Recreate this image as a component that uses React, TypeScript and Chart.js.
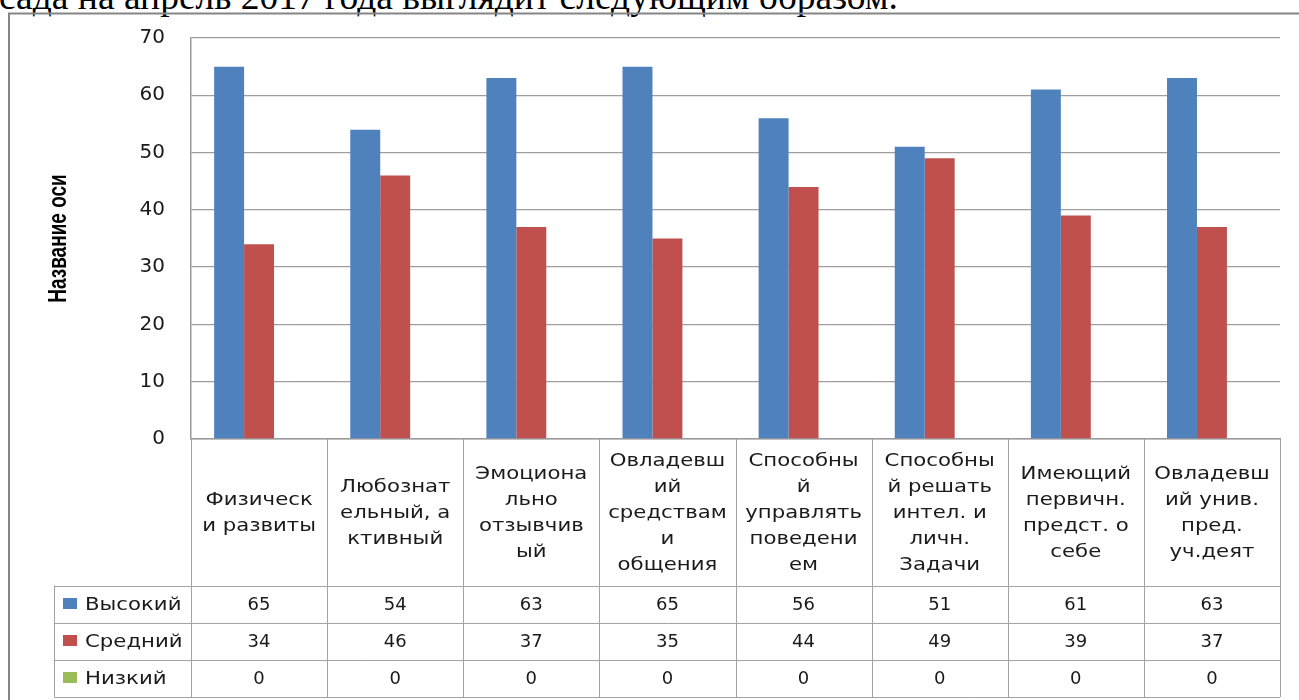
import React, { useEffect, useRef } from "react";
import { Chart, registerables } from "chart.js";

Chart.register(...registerables);

// ---------- data ----------
const categoryLines: string[][] = [
  ["Физическ", "и развиты"],
  ["Любознат", "ельный, а", "ктивный"],
  ["Эмоциона", "льно", "отзывчив", "ый"],
  ["Овладевш", "ий", "средствам", "и", "общения"],
  ["Способны", "й", "управлять", "поведени", "ем"],
  ["Способны", "й решать", "интел. и", "личн.", "Задачи"],
  ["Имеющий", "первичн.", "предст. о", "себе"],
  ["Овладевш", "ий унив.", "пред.", "уч.деят"],
];
const categories: string[] = categoryLines.map((l) => l.join(" "));

const highValues: number[] = [65, 54, 63, 65, 56, 51, 61, 63];
const midValues: number[] = [34, 46, 37, 35, 44, 49, 39, 37];
const lowValues: number[] = [0, 0, 0, 0, 0, 0, 0, 0];

const seriesNames: string[] = ["Высокий", "Средний", "Низкий"];
const seriesColors: string[] = ["#4F81BD", "#C0504D", "#9BBB59"];

const yMin = 0;
const yMax = 70;
const yStep = 10;

const axisTitle = "Название оси";
const headingText = "сада на апрель 2017 года выглядит следующим образом.";

// ---------- styles ----------
const TEXT_FONT = "18px 'DejaVu Sans', sans-serif";
const TEXT_STRETCH = 1.18;
const TEXT_COLOR = "#1a1a1a";
const LINE_COLOR = "#a3a3a3";

function stretchedText(
  ctx: CanvasRenderingContext2D,
  text: string,
  x: number,
  y: number,
  sx: number,
  align: CanvasTextAlign
) {
  ctx.save();
  ctx.translate(x, y);
  ctx.scale(sx, 1);
  ctx.textAlign = align;
  ctx.textBaseline = "middle";
  ctx.fillText(text, 0, 0);
  ctx.restore();
}

function line(ctx: CanvasRenderingContext2D, x1: number, y1: number, x2: number, y2: number) {
  ctx.beginPath();
  ctx.moveTo(x1, y1);
  ctx.lineTo(x2, y2);
  ctx.stroke();
}

const tablePlugin = {
  id: "dataTable",
  beforeDraw(chart: any) {
    const ctx: CanvasRenderingContext2D = chart.ctx;
    ctx.save();
    ctx.strokeStyle = "#858585";
    ctx.lineWidth = 2;
    ctx.strokeRect(9, 13.5, 1400, 800);
    ctx.restore();
  },
  afterDraw(chart: any) {
    const ctx: CanvasRenderingContext2D = chart.ctx;
    const xs = chart.scales.x;
    const area = chart.chartArea;
    const n = categories.length;
    const w = xs.width / n;
    const top = area.bottom;
    const catBottom = top + 146.5;
    const rowH = 37;
    const tableBottom = catBottom + rowH * seriesNames.length;
    const tableLeft = 54.5;

    ctx.save();
    ctx.strokeStyle = LINE_COLOR;
    ctx.lineWidth = 1;
    for (let r = 0; r <= seriesNames.length; r++) {
      const y = Math.round(catBottom + r * rowH) + 0.5;
      line(ctx, tableLeft, y, xs.right, y);
    }
    for (let i = 0; i <= n; i++) {
      const x = Math.round(xs.left + i * w) + 0.5;
      line(ctx, x, top, x, tableBottom + 0.5);
    }
    line(ctx, tableLeft, catBottom, tableLeft, tableBottom + 0.5);

    ctx.fillStyle = TEXT_COLOR;
    ctx.font = TEXT_FONT;
    const lh = 26;
    const cellMid = (top + catBottom) / 2 + 1;
    for (let i = 0; i < n; i++) {
      const cx = xs.getPixelForValue(i);
      const lines = categoryLines[i];
      const start = cellMid - ((lines.length - 1) * lh) / 2;
      lines.forEach((t, k) => stretchedText(ctx, t, cx, start + k * lh, TEXT_STRETCH, "center"));
    }
    const series = [highValues, midValues, lowValues];
    for (let r = 0; r < series.length; r++) {
      const cy = catBottom + r * rowH + rowH / 2 + 1;
      for (let i = 0; i < n; i++) {
        stretchedText(ctx, String(series[r][i]), xs.getPixelForValue(i), cy, 1.0, "center");
      }
      ctx.fillStyle = seriesColors[r];
      ctx.fillRect(63, cy - 7, 14, 11);
      ctx.fillStyle = TEXT_COLOR;
      stretchedText(ctx, seriesNames[r], 85, cy, TEXT_STRETCH, "left");
    }

    ctx.save();
    ctx.translate(59, (area.top + area.bottom) / 2);
    ctx.rotate(-Math.PI / 2);
    ctx.scale(1, 1.32);
    ctx.font = "bold 19px 'Liberation Sans', Arial, sans-serif";
    ctx.textAlign = "center";
    ctx.textBaseline = "middle";
    ctx.fillStyle = "#000";
    ctx.fillText(axisTitle, 0, 0);
    ctx.restore();

    ctx.restore();
  },
};

export default function App() {
  const ref = useRef<HTMLCanvasElement>(null);

  useEffect(() => {
    if (!ref.current) return;
    const chart = new Chart(ref.current, {
      type: "bar",
      data: {
        labels: categories,
        datasets: seriesNames.map((name, i) => ({
          label: name,
          data: [highValues, midValues, lowValues][i],
          backgroundColor: seriesColors[i],
          borderWidth: 0,
          categoryPercentage: 0.66,
          barPercentage: 1,
        })),
      },
      options: {
        responsive: false,
        animation: false,
        layout: { padding: { top: 38, right: 19, left: 0, bottom: 0 } },
        plugins: {
          legend: { display: false },
          tooltip: { enabled: false },
        },
        scales: {
          x: {
            type: "category",
            ticks: { display: false },
            grid: { display: false, drawTicks: false },
            border: { display: true, color: "#9a9a9a", width: 1.5 },
            afterFit: (s: any) => {
              s.height = 261;
            },
          },
          y: {
            min: yMin,
            max: yMax,
            ticks: {
              stepSize: yStep,
              padding: 26,
              color: TEXT_COLOR,
              font: { family: "'DejaVu Sans', sans-serif", size: 20 },
            },
            grid: { color: "#9e9e9e", lineWidth: 1.3, drawTicks: false },
            border: { display: true, color: "#9a9a9a", width: 1.5 },
            afterFit: (s: any) => {
              s.width = 191;
            },
          },
        },
      },
      plugins: [tablePlugin],
    } as any);
    return () => chart.destroy();
  }, []);

  return (
    <div
      style={{
        position: "fixed",
        left: 0,
        top: 0,
        width: 1299,
        height: 700,
        overflow: "hidden",
        background: "#fff",
      }}
    >
      <div
        style={{
          position: "absolute",
          left: -1,
          top: -22,
          font: "37.5px 'Liberation Serif', 'Times New Roman', serif",
          lineHeight: "37.5px",
          whiteSpace: "nowrap",
          color: "#000",
        }}
      >
        {headingText}
      </div>
      <canvas
        ref={ref}
        width={1299}
        height={700}
        style={{ position: "absolute", left: 0, top: 0, width: 1299, height: 700 }}
      />
    </div>
  );
}
